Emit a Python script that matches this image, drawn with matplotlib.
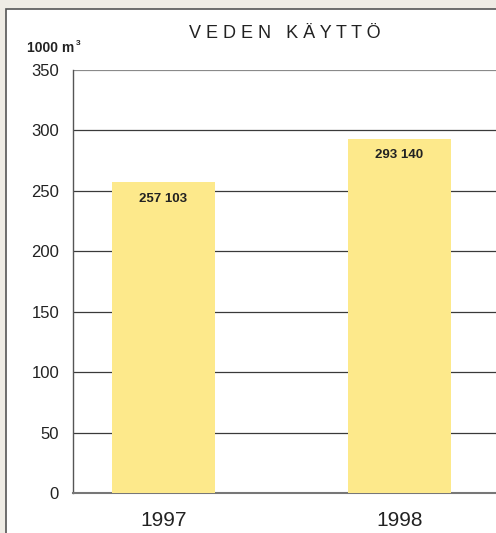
import matplotlib.pyplot as plt
from matplotlib.patches import Rectangle

# data
years = ["1997", "1998"]
values = [257.103, 293.140]
value_labels = ["257 103", "293 140"]
y_ticks = [0, 50, 100, 150, 200, 250, 300, 350]

W, H = 496, 533
fig = plt.figure(figsize=(W / 100, H / 100), dpi=100)
fig.patch.set_facecolor("#efece5")
plt.rcParams['font.family'] = ['Liberation Sans', 'DejaVu Sans']

# white panel with border, cut off at right and bottom
fig.patches.append(Rectangle((6 / W, -0.05), 1.1, 1 - 9 / H + 0.05,
                             transform=fig.transFigure, facecolor="white",
                             edgecolor="#555555", linewidth=1.2, zorder=0))

# axes: left 73px, right edge of figure, bottom 493px, top 70px
ax = fig.add_axes([73 / W, 1 - 493 / H, 1 - 73 / W, (493 - 70) / H])
ax.set_facecolor("white")
ax.set_zorder(1)

x = [0, 1]
ax.bar(x, values, width=103 / 236, color="#fde98b", zorder=3)
ax.set_xlim(-90.5 / 236, (W - 163.5) / 236)
ax.set_ylim(0, 350)

for yv in y_ticks[1:-1]:
    ax.axhline(yv, color="#3a3a3a", linewidth=0.9, zorder=2)
ax.axhline(350, color="#8a8a8a", linewidth=1.6, zorder=2)

for s in ["top", "right"]:
    ax.spines[s].set_visible(False)
ax.spines["left"].set_color("#555555")
ax.spines["bottom"].set_color("#777777")
ax.spines["left"].set_linewidth(1.0)
ax.spines["bottom"].set_linewidth(1.5)

ax.set_yticks(y_ticks)
ax.set_yticklabels([str(t) for t in y_ticks], fontsize=12, color="#222222")
ax.tick_params(axis="y", length=0, pad=10)
ax.set_xticks(x)
ax.set_xticklabels(years, fontsize=15, color="#222222")
ax.tick_params(axis="x", length=0, pad=13)

for xi, v, lab in zip(x, values, value_labels):
    ax.text(xi, v - 8.5, lab, ha="center", va="top", fontsize=9.5,
            fontweight="bold", color="#222222", zorder=4)

fig.text(285 / W, 1 - 34 / H, " ".join("VEDEN KÄYTTÖ"), ha="center",
         va="center", fontsize=13, color="#222222")
fig.text(27 / W, 1 - 48 / H, "1000 m", ha="left", va="center",
         fontsize=10, fontweight="bold", color="#222222")
fig.text(75.5 / W, 1 - 43 / H, "3", ha="left", va="center",
         fontsize=6, fontweight="bold", color="#222222")

fig.savefig("out.png", dpi=100)
